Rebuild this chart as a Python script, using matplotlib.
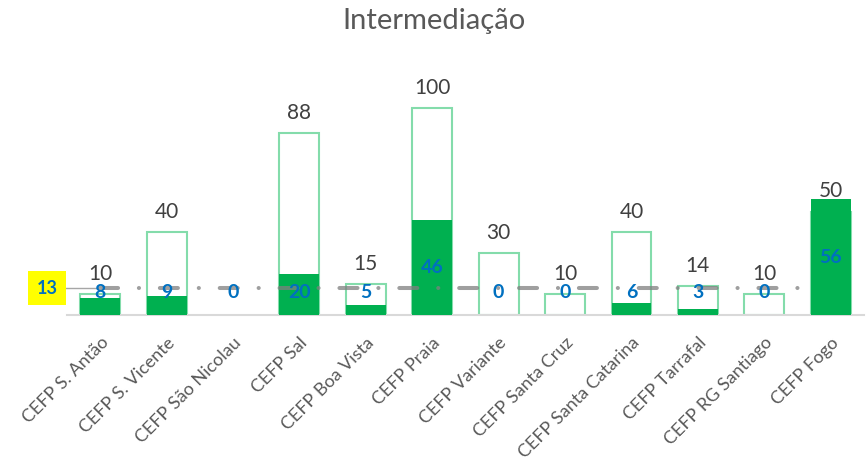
import matplotlib.pyplot as plt

plt.rcParams['font.family'] = ['Lato', 'DejaVu Sans']
plt.rcParams['lines.scale_dashes'] = False

# Data
centros = ["CEFP S. Antão", "CEFP S. Vicente", "CEFP São Nicolau", "CEFP Sal",
           "CEFP Boa Vista", "CEFP Praia", "CEFP Variante", "CEFP Santa Cruz",
           "CEFP Santa Catarina", "CEFP Tarrafal", "CEFP RG Santiago", "CEFP Fogo"]
meta = [10, 40, None, 88, 15, 100, 30, 10, 40, 14, 10, 50]
realizado = [8, 9, 0, 20, 5, 46, 0, 0, 6, 3, 0, 56]
media = 13

x = list(range(len(centros)))

fig = plt.figure(figsize=(8.68, 4.66), dpi=100)
ax = fig.add_axes([0.0772, 0.324, 0.918, 0.472])

# target bars (outline only)
for i, m in zip(x, meta):
    if m is None:
        continue
    ax.bar(i, m, width=0.6, facecolor='white', edgecolor='#84dcab', linewidth=1.5, zorder=2)
    ax.text(i, m + 5, str(m), ha='center', va='bottom', fontsize=15, color='#404040', zorder=6)

# actual bars
ax.bar(x, realizado, width=0.6, color='#00b050', zorder=3)

# average line
ax.plot([0, 10.7], [media, media], color='#7f7f7f', alpha=0.75, linewidth=2.9,
        dashes=(13, 15, 0.1, 15), dash_capstyle='round', zorder=4)
ax.plot([-0.55, 0], [media, media], color='#a6a6a6', linewidth=1, zorder=4, clip_on=False)
ax.text(-0.8, media, str(media), ha='center', va='center', fontsize=13, fontweight='bold',
        color='#0070c0', zorder=6,
        bbox=dict(boxstyle='square,pad=0.45', facecolor='#ffff00', edgecolor='none'))

# value labels
for i, v in zip(x, realizado):
    ax.text(i, max(v / 2, 11), str(v), ha='center', va='center', fontsize=14,
            fontweight='bold', color='#0070c0', zorder=7)

ax.set_xlim(-0.5, len(centros) - 0.5)
ax.set_ylim(0, 106.3)
ax.set_yticks([])
for s in ['top', 'right', 'left']:
    ax.spines[s].set_visible(False)
ax.spines['bottom'].set_color('#d9d9d9')
ax.spines['bottom'].set_linewidth(1.5)
ax.set_xticks(x)
ax.set_xticklabels(centros, rotation=45, ha='right', rotation_mode='anchor',
                   fontsize=13, color='#595959')
ax.tick_params(axis='x', length=0, pad=14)

fig.text(0.5, 0.955, "Intermediação", ha='center', va='center', fontsize=21, color='#595959')

fig.savefig("out.png", dpi=100)
